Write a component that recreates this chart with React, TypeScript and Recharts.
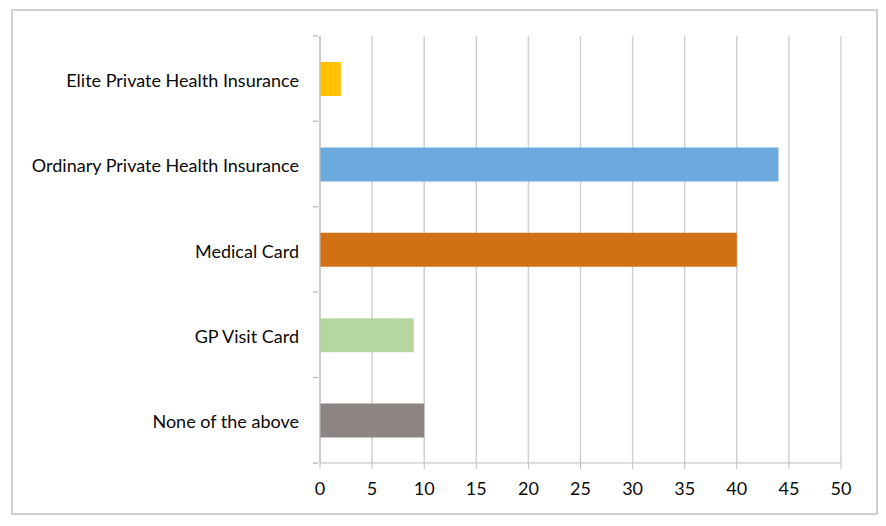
import React from 'react';
import { BarChart, Bar, XAxis, YAxis, CartesianGrid, Cell } from 'recharts';

const categories = [
  'Elite Private Health Insurance',
  'Ordinary Private Health Insurance',
  'Medical Card',
  'GP Visit Card',
  'None of the above',
];
const values = [2, 44, 40, 9, 10];
const colors = ['#FFC000', '#6CA9DC', '#D27016', '#B5D79F', '#8C8584'];
const xTicks = [0, 5, 10, 15, 20, 25, 30, 35, 40, 45, 50];

const data = categories.map((name, i) => ({ name, value: values[i] }));

const FONT = 'Lato, "Open Sans", sans-serif';
const BAND = (463 - 35) / categories.length;

const CategoryTick = (props: any) => {
  const { x, y, payload, index } = props;
  const ax = x; // axis line position
  return (
    <g>
      <line x1={ax - 5} x2={ax} y1={y - BAND / 2} y2={y - BAND / 2} stroke="#bfbfbf" strokeWidth={1.5} />
      {index === categories.length - 1 && (
        <line x1={ax - 5} x2={ax} y1={y + BAND / 2} y2={y + BAND / 2} stroke="#bfbfbf" strokeWidth={1.5} />
      )}
      <text x={ax - 19} y={y} dy={8} textAnchor="end" fill="#0a0a0a" fontSize={18} fontFamily={FONT}>
        {payload.value}
      </text>
    </g>
  );
};

export default function App() {
  return (
    <div style={{ position: 'absolute', left: 0, top: 0, width: 886, height: 526, background: '#fff' }}>
      <div
        style={{
          position: 'absolute',
          left: 11,
          top: 9,
          width: 863,
          height: 502,
          border: '2px solid #d0d0d0',
        }}
      />
      <div style={{ position: 'absolute', left: 0, top: 0 }}>
        <BarChart
          width={886}
          height={526}
          data={data}
          layout="vertical"
          margin={{ top: 36, right: 45, left: 9, bottom: 33 }}
        >
          <CartesianGrid horizontal={false} stroke="#d0d0d0" strokeWidth={1.5} />
          <XAxis
            type="number"
            domain={[0, 50]}
            ticks={xTicks}
            interval={0}
            height={30}
            stroke="#bfbfbf"
            tickSize={6}
            tick={{ fill: '#0a0a0a', fontSize: 18, fontFamily: FONT }}
            tickMargin={13}
          />
          <YAxis
            type="category"
            dataKey="name"
            width={311}
            stroke="#bfbfbf"
            tickLine={false}
            tickSize={0}
            tick={<CategoryTick />}
            interval={0}
          />
          <Bar dataKey="value" barSize={34} isAnimationActive={false}>
            {data.map((d, i) => (
              <Cell key={d.name} fill={colors[i]} />
            ))}
          </Bar>
        </BarChart>
      </div>
    </div>
  );
}
